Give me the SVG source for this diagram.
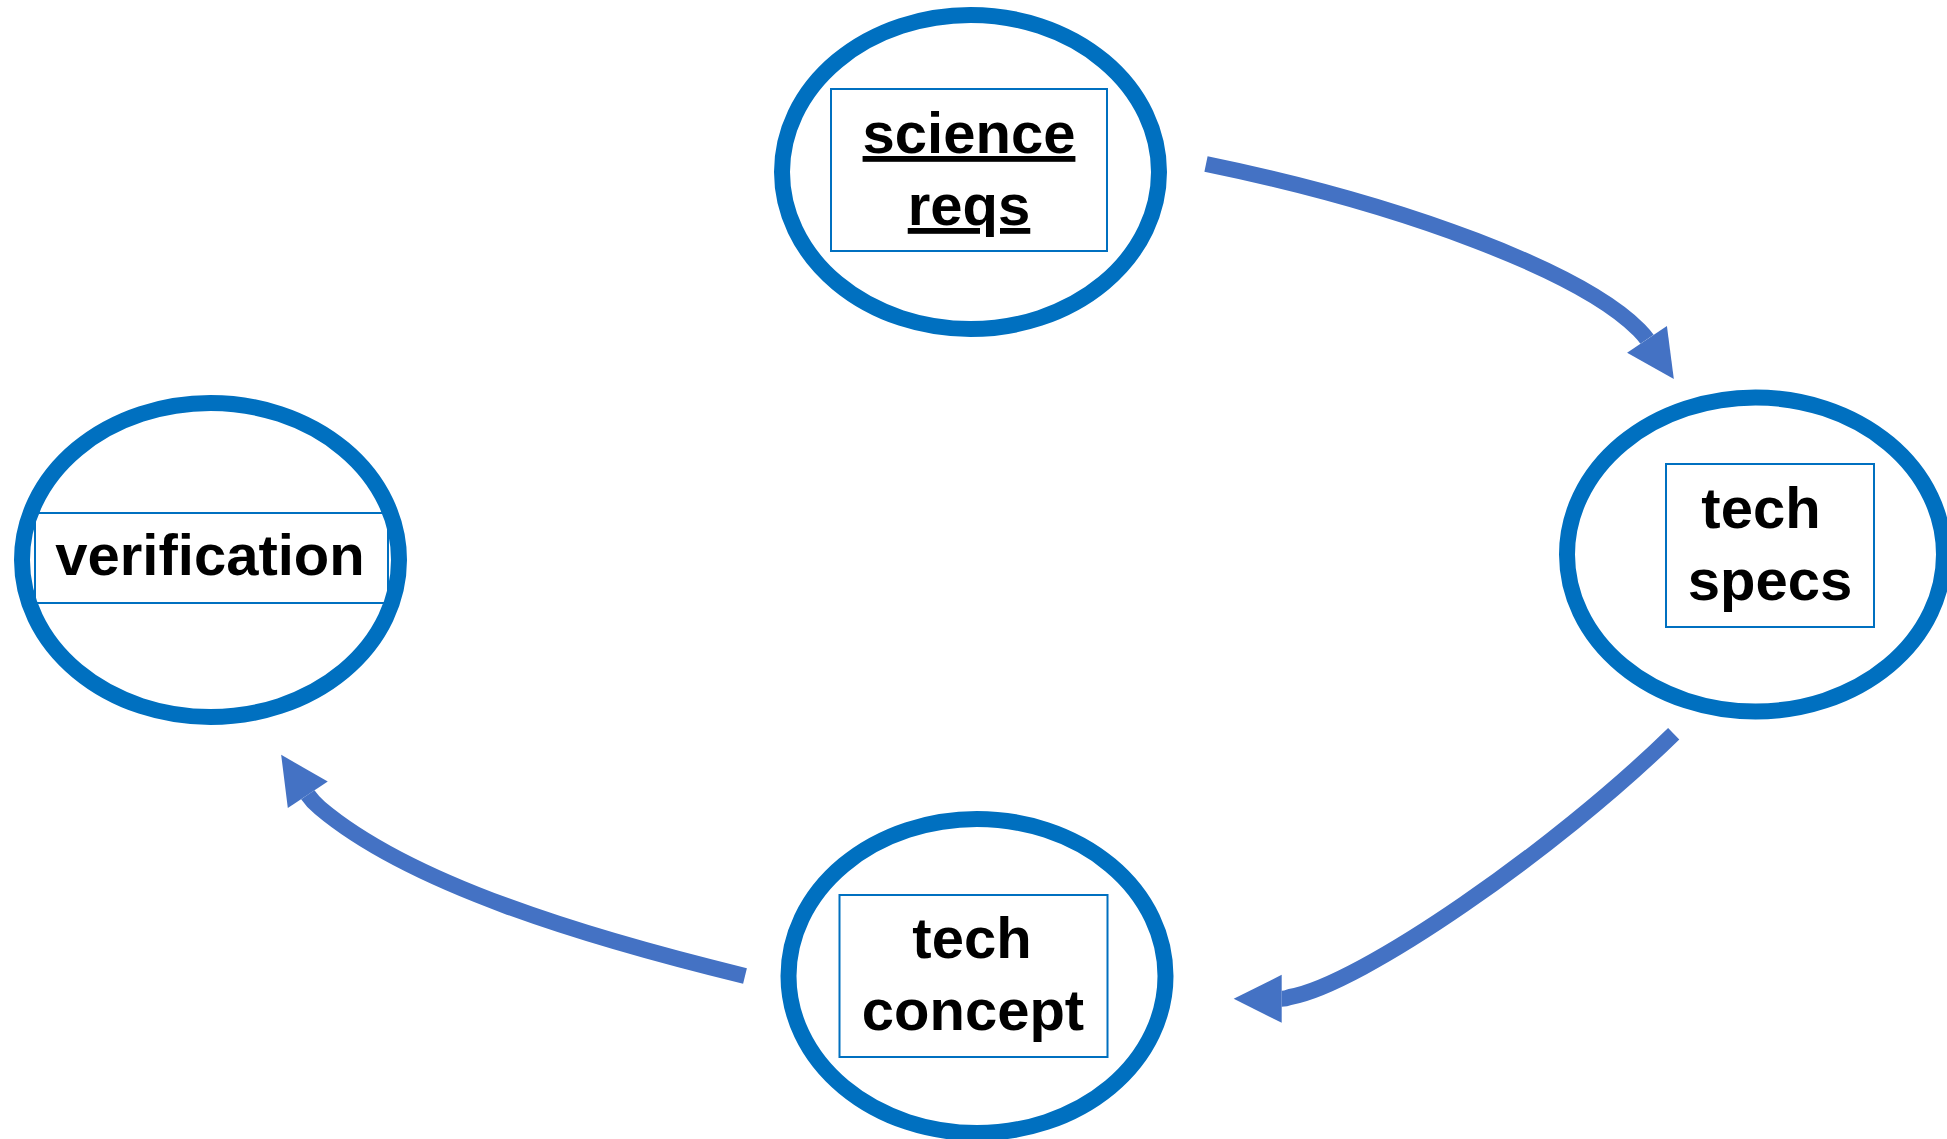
<svg xmlns="http://www.w3.org/2000/svg" width="1947" height="1139" viewBox="0 0 1947 1139">
  <style>
    .ring { fill: none; stroke: #0070c0; stroke-width: 16; }
    .bg { fill: #ffffff; stroke: none; }
    .box { fill: #ffffff; stroke: #0070c0; stroke-width: 2; }
    .lbl { font-family: "Liberation Sans", Arial, Helvetica, sans-serif; font-weight: bold; font-size: 58px; fill: #000000; text-anchor: middle; }
    .ul { text-decoration: underline; }
    .conn { fill: none; stroke: #4472c4; stroke-width: 16; stroke-linecap: butt; stroke-linejoin: round; marker-end: url(#head); }
  </style>
  <defs>
    <marker id="head" markerUnits="userSpaceOnUse" markerWidth="48" markerHeight="48" viewBox="0 0 47 47" refX="0" refY="23.5" orient="auto" overflow="visible">
      <path d="M0,0 L47,23.5 L0,47 Z" fill="#4472c4"/>
    </marker>
  </defs>
  <rect width="1947" height="1139" fill="#ffffff"/>

  <g id="connectors">
    <path id="c-science-specs" class="conn" d="M1206,164 C1406,205 1581,271.8 1639,329.8 Q1643.9,334.7 1647,339.3"/>
    <path id="c-specs-concept" class="conn" d="M1673.7,733.7 C1555,850 1360,985 1290,997 Q1285.5,998.8 1281.7,998.8"/>
    <path id="c-concept-verification" class="conn" d="M745,976 C585,937 410,884 320,808 Q312.2,801.4 307.8,794.8"/>
  </g>

  <g id="node-science-reqs">
    <ellipse class="bg" cx="970.5" cy="172" rx="188.5" ry="157"/>
    <rect class="box" x="831" y="89" width="276" height="162"/>
    <ellipse class="ring" cx="970.5" cy="172" rx="188.5" ry="157"/>
    <text class="lbl ul" x="969" y="153">science</text>
    <text class="lbl ul" x="969" y="225">reqs</text>
  </g>

  <g id="node-tech-specs">
    <ellipse class="bg" cx="1755.5" cy="554.5" rx="188.5" ry="157"/>
    <rect class="box" x="1666" y="464" width="208" height="163"/>
    <ellipse class="ring" cx="1755.5" cy="554.5" rx="188.5" ry="157"/>
    <text class="lbl" x="1761" y="528">tech</text>
    <text class="lbl" x="1770" y="600">specs</text>
  </g>

  <g id="node-tech-concept">
    <ellipse class="bg" cx="977" cy="976" rx="188.5" ry="157"/>
    <rect class="box" x="839.5" y="895" width="268" height="162"/>
    <ellipse class="ring" cx="977" cy="976" rx="188.5" ry="157"/>
    <text class="lbl" x="972" y="958">tech</text>
    <text class="lbl" x="973" y="1030">concept</text>
  </g>

  <g id="node-verification">
    <ellipse class="bg" cx="210.5" cy="560" rx="188.5" ry="157"/>
    <rect class="box" x="35" y="513" width="353" height="90"/>
    <ellipse class="ring" cx="210.5" cy="560" rx="188.5" ry="157"/>
    <text class="lbl" x="210" y="575">verification</text>
  </g>
</svg>
